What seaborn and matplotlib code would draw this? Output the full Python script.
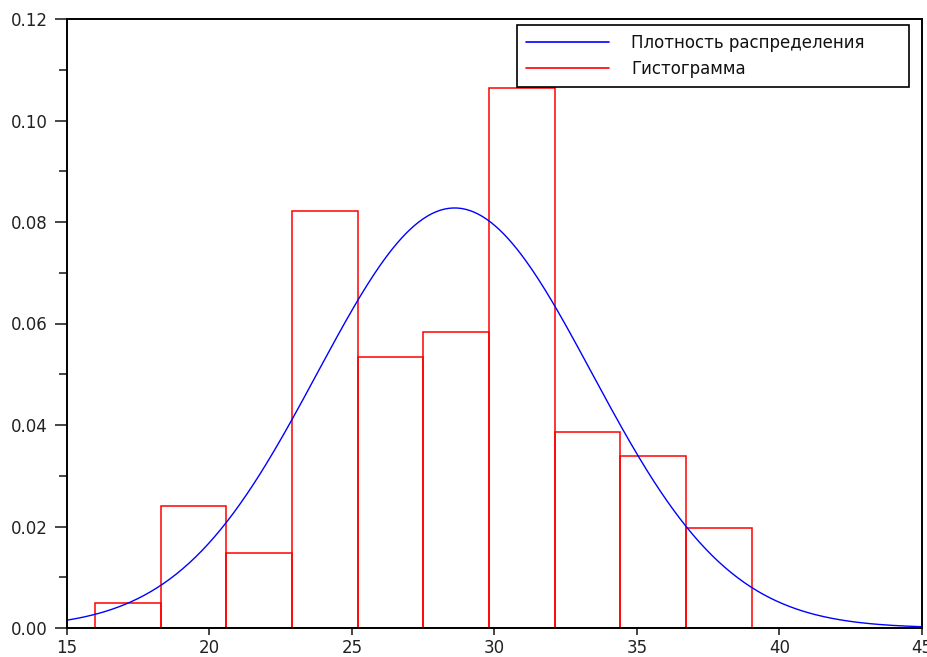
import numpy as np
import seaborn as sns
import matplotlib
matplotlib.use("Agg")
import matplotlib.pyplot as plt
from matplotlib.lines import Line2D
from matplotlib.ticker import MultipleLocator, FormatStrFormatter

# Histogram: bin edges and density heights
bin_edges = [15.98, 18.285, 20.59, 22.895, 25.20, 27.505, 29.81, 32.115, 34.42, 36.725, 39.03]
density_heights = [0.0049, 0.0241, 0.0148, 0.0822, 0.0534, 0.0583, 0.1064, 0.0386, 0.0339, 0.0197]

# Fitted normal distribution parameters
mu = 28.6
sigma = 4.82

x_ticks = [15, 20, 25, 30, 35, 40, 45]
y_ticks = [0.00, 0.02, 0.04, 0.06, 0.08, 0.10, 0.12]

label_density = "Плотность распределения"
label_hist = "Гистограмма"

sns.set_style("ticks")
plt.rcParams["font.family"] = ["DejaVu Sans"]

fig = plt.figure(figsize=(9.28, 6.57), dpi=100)
ax = fig.add_axes([67 / 928, 29 / 657, 855 / 928, 609 / 657])

centers = [(a + b) / 2 for a, b in zip(bin_edges[:-1], bin_edges[1:])]
sns.histplot(x=centers, weights=density_heights, bins=bin_edges, fill=False,
             element="bars", color="red", linewidth=1.1, ax=ax)

xs = np.linspace(15, 45, 400)
pdf = np.exp(-0.5 * ((xs - mu) / sigma) ** 2) / (sigma * np.sqrt(2 * np.pi))
sns.lineplot(x=xs, y=pdf, color="blue", linewidth=1.0, ax=ax)

ax.set_xlim(15, 45)
ax.set_ylim(0, 0.12)
ax.set_xlabel("")
ax.set_ylabel("")
ax.set_xticks(x_ticks)
ax.set_yticks(y_ticks)
ax.yaxis.set_major_formatter(FormatStrFormatter("%.2f"))
ax.yaxis.set_minor_locator(MultipleLocator(0.01))

for s in ax.spines.values():
    s.set_visible(True)
    s.set_color("black")
    s.set_linewidth(1.4)

ax.tick_params(axis="y", which="major", direction="out", length=9, width=1.2,
               labelsize=12, pad=5, labelcolor="#222222")
ax.tick_params(axis="y", which="minor", direction="out", length=6, width=1.2)
ax.tick_params(axis="x", which="major", direction="out", length=5, width=1.2,
               labelsize=12, pad=3, labelcolor="#222222")
ax.tick_params(top=False, right=False)

handles = [Line2D([0], [0], color="blue", lw=1.2),
           Line2D([0], [0], color="red", lw=1.2)]
leg = ax.legend(handles, [label_density, label_hist], loc="upper left",
                bbox_to_anchor=(0.526, 0.887, 0.459, 0.103), mode="expand",
                borderaxespad=0, fontsize=12,
                handlelength=5.0, handletextpad=1.3, labelspacing=0.45,
                borderpad=0.55, fancybox=False, framealpha=1, edgecolor="black")
leg.get_frame().set_linewidth(1.2)
for t in leg.get_texts():
    t.set_color("#111111")

fig.savefig("out.png", dpi=100)
